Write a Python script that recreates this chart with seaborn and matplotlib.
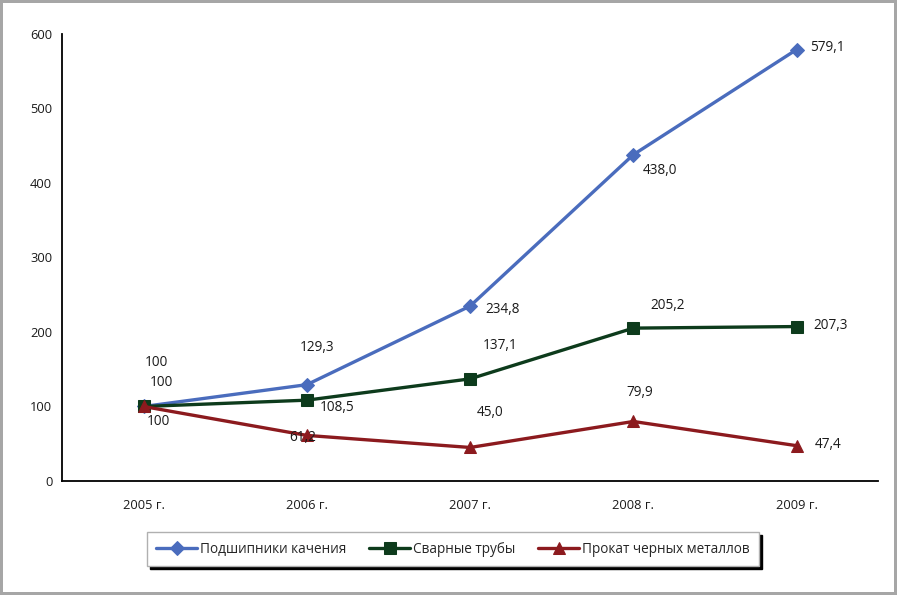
import matplotlib
matplotlib.use("Agg")
import matplotlib.pyplot as plt
import numpy as np
import pandas as pd
import seaborn as sns

# Data
years = ["2005 г.", "2006 г.", "2007 г.", "2008 г.", "2009 г."]
series_names = ["Подшипники качения", "Сварные трубы", "Прокат черных металлов"]
bearings = [100, 129.3, 234.8, 438.0, 579.1]
pipes = [100, 108.5, 137.1, 205.2, 207.3]
rolled = [100, 61.2, 45.0, 79.9, 47.4]

values = [bearings, pipes, rolled]
colors = ["#4a6cbd", "#0d3b1c", "#8c1a1e"]
markers = ["D", "s", "^"]
msizes = [7.5, 8.5, 8.5]

# label offsets in pixels (dx, dy) relative to each point
offsets = [
    [(13, 44), (10, 37), (33, -3), (27, -16), (31, 2)],
    [(18, 24), (30, -7), (30, 33), (34, 23), (34, 1)],
    [(15, -15), (-4, -2), (20, 35), (6, 29), (31, 1)],
]

df = pd.DataFrame({
    "x": np.tile(np.arange(len(years)), len(series_names)),
    "value": np.concatenate(values),
    "series": np.repeat(series_names, len(years)),
})

sns.set_style("white")
plt.rcParams["font.family"] = ["Open Sans", "DejaVu Sans"]

fig = plt.figure(figsize=(8.97, 5.95), dpi=100)
fig.patch.set_edgecolor("#a6a6a6")
fig.patch.set_linewidth(4)
ax = fig.add_axes([0.0691, 0.1916, 0.910, 0.7513])

for name, color, mk, ms in zip(series_names, colors, markers, msizes):
    sns.lineplot(data=df[df["series"] == name], x="x", y="value", ax=ax,
                 color=color, linewidth=2.4, marker=mk, markersize=ms,
                 markeredgecolor=color, label=name)

for vals, offs in zip(values, offsets):
    for i, (v, (dx, dy)) in enumerate(zip(vals, offs)):
        txt = f"{v:.1f}".replace(".", ",") if i > 0 else "100"
        ax.annotate(txt, (i, v), xytext=(dx, dy), textcoords="offset pixels",
                    ha="center", va="center", fontsize=9.8, color="#1a1a1a")

ax.set_xlim(-0.5, len(years) - 0.5)
ax.set_ylim(0, 600)
ax.set_yticks(range(0, 601, 100))
ax.set_xticks(range(len(years)))
ax.set_xticklabels(years)
ax.set_xticks(np.arange(-0.5, len(years), 1), minor=True)
ax.tick_params(axis="x", which="major", length=0, pad=13, labelsize=9.3, colors="#1a1a1a")
ax.tick_params(axis="x", which="minor", length=6, width=1, direction="out", color="black")
ax.tick_params(axis="y", length=4, width=1, direction="out", labelsize=9.3, pad=3,
               color="black", labelcolor="#1a1a1a")
ax.set_xlabel("")
ax.set_ylabel("")
ax.spines[["top", "right"]].set_visible(False)
ax.spines[["left", "bottom"]].set_color("black")
ax.spines[["left", "bottom"]].set_linewidth(1.3)

leg = ax.legend(loc="center", bbox_to_anchor=(0.505, 0.077), bbox_transform=fig.transFigure,
                ncol=3, frameon=True, fancybox=False,
                shadow={"color": "black", "alpha": 1, "ox": 2, "oy": -2},
                fontsize=9.8, handlelength=3.0, handletextpad=0.2, columnspacing=1.7,
                borderpad=0.7, edgecolor="#b0b0b0")
leg.get_frame().set_linewidth(1)

fig.savefig("out.png", dpi=100, facecolor="white", edgecolor=fig.get_edgecolor())
plt.close(fig)
